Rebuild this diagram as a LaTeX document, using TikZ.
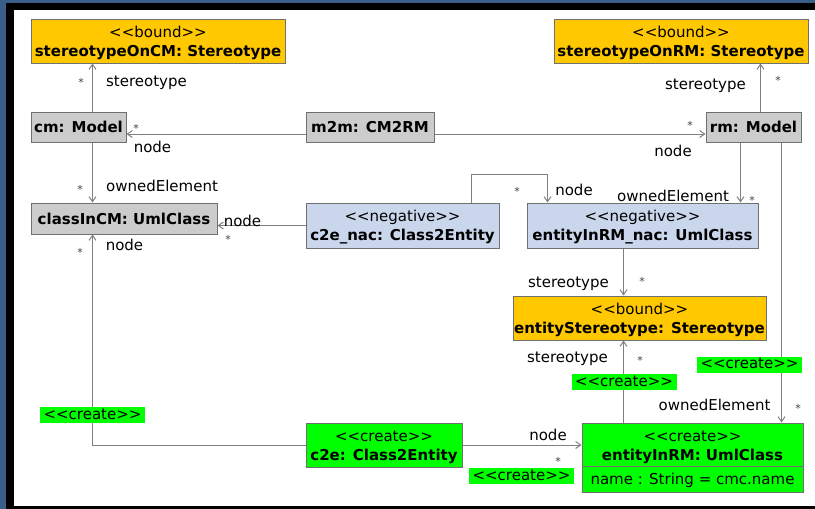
\documentclass[tikz,border=0pt]{standalone}
\usepackage{fontspec}
\setmainfont{DejaVu Sans}[Ligatures=TeXOff]
\usetikzlibrary{arrows.meta}

\definecolor{frameblue}{RGB}{58,94,135}
\definecolor{boundfill}{RGB}{255,200,0}
\definecolor{plainfill}{RGB}{204,204,204}
\definecolor{negfill}{RGB}{202,214,235}
\definecolor{createfill}{RGB}{0,255,0}
\definecolor{edgegray}{RGB}{128,128,128}
\definecolor{boxborder}{RGB}{112,112,112}
\definecolor{stargray}{RGB}{70,70,70}

% extra height above the stereotype line of two-line objects
\newcommand\toppad{\rule{0pt}{15.5pt}}

\begin{document}
\begin{tikzpicture}[x=1pt,y=-1pt,
  font=\fontsize{15}{19}\selectfont,
  obj/.style={draw=boxborder, line width=1pt, inner sep=0pt, align=center},
  link/.style={draw=edgegray, line width=1pt, -{Straight Barb[length=5pt,width=7pt]}},
  lbl/.style={inner sep=0pt, text height=11.5pt, text depth=0.5pt},
  star/.style={anchor=base, yshift=-6pt, inner sep=0pt, font=\fontsize{11}{11}\selectfont, text=stargray},
  tag/.style={fill=createfill, inner xsep=1pt, inner ysep=0pt, minimum width=105pt, minimum height=16pt, text height=11pt, text depth=3pt}]

% window frame and canvas
\fill[frameblue] (0,0) rectangle (815,509);
\fill[black] (6,3) rectangle (815,509);
\fill[white] (14,10) rectangle (815,506);
\useasboundingbox (0,0) rectangle (815,509);

% objects
\node[obj, fill=boundfill, minimum width=254pt, minimum height=44pt] (socm) at (158,41)
  {\toppad<<bound>>\\\textbf{stereotypeOnCM: Stereotype}};
\node[obj, fill=boundfill, minimum width=254pt, minimum height=44pt] (sorm) at (681,41)
  {\toppad<<bound>>\\\textbf{stereotypeOnRM: Stereotype}};
\node[obj, fill=plainfill, minimum width=95pt, minimum height=30pt] (cm) at (78.5,127)
  {\textbf{cm: Model}};
\node[obj, fill=plainfill, minimum width=128pt, minimum height=30pt] (m2m) at (370,127)
  {\textbf{m2m: CM2RM}};
\node[obj, fill=plainfill, minimum width=95pt, minimum height=30pt] (rm) at (753.5,127)
  {\textbf{rm: Model}};
\node[obj, fill=plainfill, minimum width=186pt, minimum height=31pt] (classInCM) at (124,218.5)
  {\textbf{classInCM: UmlClass}};
\node[obj, fill=negfill, minimum width=193pt, minimum height=45pt] (c2enac) at (402.5,225.5)
  {\toppad<<negative>>\\\textbf{c2e\_nac: Class2Entity}};
\node[obj, fill=negfill, minimum width=231pt, minimum height=45pt] (enac) at (642.5,225.5)
  {\toppad<<negative>>\\\textbf{entityInRM\_nac: UmlClass}};
\node[obj, fill=boundfill, minimum width=253pt, minimum height=44pt] (es) at (639.5,318)
  {\toppad<<bound>>\\\textbf{entityStereotype: Stereotype}};
\node[obj, fill=createfill, minimum width=156pt, minimum height=44pt] (c2e) at (384,445)
  {\toppad<<create>>\\\textbf{c2e: Class2Entity}};
\node[obj, fill=createfill, minimum width=221pt, minimum height=69pt] (erm) at (692.5,457.5) {};
\node[inner sep=0pt, align=center] (ermtitle) at ([yshift=-22pt]erm.north)
  {\toppad<<create>>\\\textbf{entityInRM: UmlClass}};
\draw[boxborder, line width=1pt] ([yshift=-44pt]erm.north west) -- ([yshift=-44pt]erm.north east);
\node[lbl] (ermattr) at ([yshift=-56.5pt]erm.north) {name : String = cmc.name};

% links
\draw[link] ([xshift=62pt]cm.north west) -- ([xshift=62pt]socm.south west);
\draw[link] ([xshift=62pt]cm.south west) -- ([xshift=62pt]classInCM.north west);
\draw[link] ([yshift=-7pt]m2m.west) -- ([yshift=-7pt]cm.east);
\draw[link] ([yshift=-7pt]m2m.east) -- ([yshift=-7pt]rm.west);
\draw[link] ([xshift=55pt]rm.north west) -- ([xshift=55pt]rm.north west |- sorm.south);
\draw[link] (c2enac.west) -- (c2enac.west -| classInCM.east);
\draw[link] ([xshift=166pt]c2enac.north west) -- ++(0pt,28pt) -| ([xshift=21pt]enac.north west);
\draw[link] ([xshift=35pt]rm.south west) -- ([xshift=35pt]rm.south west |- enac.north);
\draw[link] ([xshift=76pt]rm.south west) -- ([xshift=76pt]rm.south west |- erm.north);
\draw[link] ([xshift=97pt]enac.south west) -- ([xshift=97pt]enac.south west |- es.north);
\draw[link] ([xshift=42pt]erm.north west) -- ([xshift=42pt]erm.north west |- es.south);
\draw[link] (c2e.west) -| ([xshift=62pt]classInCM.south west);
\draw[link] (c2e.east) -- (c2e.east -| erm.west);

% role names and multiplicities
\node[star] (s1) at (81,80) {*};
\node[lbl] (r1) at (146.5,81) {stereotype};
\node[star] (s2) at (136,126) {*};
\node[lbl] (r2) at (152.5,147) {node};
\node[star] (s3) at (690,123) {*};
\node[lbl] (r3) at (673,151) {node};
\node[lbl] (r4) at (705.5,84) {stereotype};
\node[star] (s4) at (778,78) {*};
\node[star] (s5) at (80,187) {*};
\node[lbl] (r5) at (162,186) {ownedElement};
\node[lbl] (r6) at (242.5,221) {node};
\node[star] (s6) at (228,237) {*};
\node[star] (s7) at (80,250) {*};
\node[lbl] (r7) at (124.5,245) {node};
\node[star] (s8) at (517,189) {*};
\node[lbl] (r8) at (574,190) {node};
\node[lbl] (r9) at (673,196) {ownedElement};
\node[star] (s9) at (752,198) {*};
\node[lbl] (r10) at (568.5,282) {stereotype};
\node[star] (s10) at (642,279) {*};
\node[lbl] (r11) at (567.5,357) {stereotype};
\node[star] (s11) at (640,358) {*};
\node[lbl] (r12) at (714.5,405) {ownedElement};
\node[star] (s12) at (798,406) {*};
\node[lbl] (r13) at (548,435) {node};
\node[star] (s13) at (558,459) {*};

% create markers on links
\node[tag] (t1) at (749.5,364.5) {<<create>>};
\node[tag] (t2) at (624,382) {<<create>>};
\node[tag] (t3) at (92.5,415) {<<create>>};
\node[tag] (t4) at (521.5,476) {<<create>>};

\end{tikzpicture}
\end{document}
